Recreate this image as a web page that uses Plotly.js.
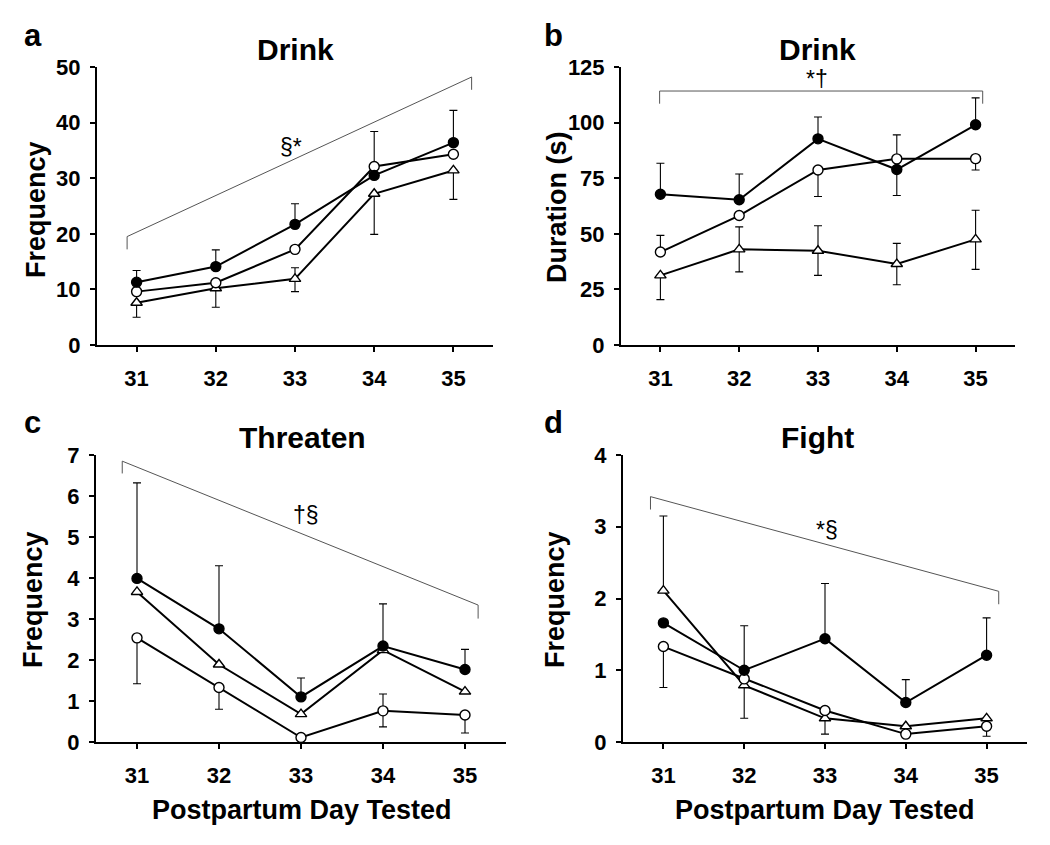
<!DOCTYPE html>
<html>
<head>
<meta charset="utf-8">
<script src="https://cdn.plot.ly/plotly-3.0.1.min.js"></script>
<style>html,body{margin:0;padding:0;background:#fff;}#chart{width:1050px;height:845px;}</style>
</head>
<body>
<div id="chart"></div>
<script>
// ---------- DATA ----------
const days = [31, 32, 33, 34, 35];
const dayLabels = ['31', '32', '33', '34', '35'];

// Panel a: Drink frequency
const aFilled = [11.3, 14.1, 21.7, 30.5, 36.4];
const aFilledUp = [2.1, 3.0, 3.7, 0, 5.8];
const aFilledDn = [0, 0, 0, 0, 0];
const aOpen = [9.6, 11.2, 17.2, 32.1, 34.3];
const aOpenUp = [0, 0, 0, 6.3, 0];
const aOpenDn = [0, 0, 0, 0, 0];
const aTri = [7.6, 10.2, 11.9, 27.2, 31.4];
const aTriUp = [0, 0, 2.0, 0, 0];
const aTriDn = [2.6, 3.4, 2.3, 7.3, 5.2];

// Panel b: Drink duration (s)
const bFilled = [67.8, 65.3, 92.7, 78.9, 99.0];
const bFilledUp = [13.9, 11.6, 9.8, 0, 12.1];
const bFilledDn = [0, 0, 0, 11.7, 0];
const bOpen = [41.8, 58.2, 78.7, 83.7, 83.8];
const bOpenUp = [7.5, 0, 0, 10.8, 0];
const bOpenDn = [0, 0, 11.9, 0, 5.1];
const bTri = [31.3, 43.0, 42.4, 36.4, 47.5];
const bTriUp = [0, 10.1, 11.2, 9.3, 13.1];
const bTriDn = [10.9, 10.1, 11.1, 9.3, 13.5];

// Panel c: Threaten frequency
const cFilled = [3.99, 2.76, 1.10, 2.34, 1.77];
const cFilledUp = [2.33, 1.54, 0.46, 1.03, 0.49];
const cFilledDn = [0, 0, 0, 0, 0];
const cOpen = [2.54, 1.33, 0.11, 0.76, 0.66];
const cOpenUp = [0, 0, 0, 0.41, 0];
const cOpenDn = [1.12, 0.53, 0, 0.39, 0.44];
const cTri = [3.66, 1.89, 0.68, 2.24, 1.23];
const cTriUp = [0, 0, 0, 0, 0];
const cTriDn = [0, 0, 0, 0, 0];

// Panel d: Fight frequency
const dFilled = [1.66, 1.00, 1.44, 0.55, 1.21];
const dFilledUp = [0, 0.62, 0.77, 0.32, 0.52];
const dFilledDn = [0, 0, 0, 0, 0];
const dOpen = [1.33, 0.88, 0.44, 0.11, 0.22];
const dOpenUp = [0, 0, 0, 0, 0];
const dOpenDn = [0.57, 0, 0, 0, 0.14];
const dTri = [2.11, 0.79, 0.33, 0.22, 0.33];
const dTriUp = [1.04, 0, 0, 0, 0];
const dTriDn = [0, 0.46, 0.22, 0, 0];

// Significance brackets: [x0, y0(tip), x1, y1(tip)] and tick drop at each end
const aBracket = [30.88, 19.5, 35.23, 48.2];
const aBracketDrop = [2.3, 2.3];
const bBracket = [30.99, 114.2, 35.09, 114.2];
const bBracketDrop = [5.7, 5.7];
const cBracket = [30.82, 6.85, 35.16, 3.34];
const cBracketDrop = [0.30, 0.33];
const dBracket = [30.84, 3.42, 35.15, 2.10];
const dBracketDrop = [0.18, 0.18];

const aSig = {text: '§*', x: 32.95, y: 35.6};
const bSig = {text: '*†', x: 32.99, y: 119.5};
const cSig = {text: '†§', x: 33.06, y: 5.53};
const dSig = {text: '*§', x: 33.03, y: 2.95};

// ---------- BUILD ----------
const W = 1050, H = 845;
const FONT = 'Liberation Sans, Arial, Helvetica, sans-serif';
const px = v => v / W;
const py = v => 1 - v / H;

function errs(up, dn) {
  const a = [], m = [];
  for (let i = 0; i < up.length; i++) {
    if (up[i] === 0 && dn[i] === 0) { a.push(NaN); m.push(NaN); }
    else { a.push(up[i]); m.push(dn[i]); }
  }
  return {type: 'data', symmetric: false, array: a, arrayminus: m,
          color: '#000', thickness: 1.1, width: 4, visible: true};
}

function series(y, up, dn, sym, fill, xa, ya) {
  return {
    x: days, y: y, type: 'scatter', mode: 'lines+markers',
    xaxis: xa, yaxis: ya, showlegend: false, hoverinfo: 'x+y',
    line: {color: '#000', width: 2},
    marker: {symbol: sym, size: 10, color: fill,
             line: {color: '#000', width: 1.4}},
    error_y: errs(up, dn), cliponaxis: false
  };
}

const traces = [];
function panel(xa, ya, F, FU, FD, O, OU, OD, T, TU, TD) {
  traces.push(series(T, TU, TD, 'triangle-up', '#fff', xa, ya));
  traces.push(series(O, OU, OD, 'circle', '#fff', xa, ya));
  traces.push(series(F, FU, FD, 'circle', '#000', xa, ya));
}
panel('x', 'y', aFilled, aFilledUp, aFilledDn, aOpen, aOpenUp, aOpenDn, aTri, aTriUp, aTriDn);
panel('x2', 'y2', bFilled, bFilledUp, bFilledDn, bOpen, bOpenUp, bOpenDn, bTri, bTriUp, bTriDn);
panel('x3', 'y3', cFilled, cFilledUp, cFilledDn, cOpen, cOpenUp, cOpenDn, cTri, cTriUp, cTriDn);
panel('x4', 'y4', dFilled, dFilledUp, dFilledDn, dOpen, dOpenUp, dOpenDn, dTri, dTriUp, dTriDn);

const tickFont = {family: FONT, size: 22, color: '#000', weight: 'bold'};
function xAxis(dom, anchor) {
  return {domain: dom, anchor: anchor, range: [30.5, 35.5], tickvals: days, ticktext: dayLabels,
          showline: true, linecolor: '#000', linewidth: 2, ticks: 'outside', ticklen: 5,
          tickwidth: 2, tickcolor: '#000', showgrid: false, zeroline: false,
          tickfont: tickFont, ticklabelstandoff: 8, fixedrange: true};
}
function yAxis(dom, anchor, max, dt) {
  return {domain: dom, anchor: anchor, range: [0, max], dtick: dt, tick0: 0,
          showline: true, linecolor: '#000', linewidth: 2, ticks: 'outside', ticklen: 5,
          tickwidth: 2, tickcolor: '#000', showgrid: false, zeroline: false,
          tickfont: tickFont, ticklabelstandoff: 5, fixedrange: true};
}

const topDom = [py(345), py(67)];
const botDom = [py(742), py(455)];

const shapes = [];
function bracket(b, drop, xr, yr) {
  const ln = {color: '#555', width: 1};
  shapes.push({type: 'line', xref: xr, yref: yr, x0: b[0], y0: b[1], x1: b[2], y1: b[3], line: ln});
  shapes.push({type: 'line', xref: xr, yref: yr, x0: b[0], y0: b[1], x1: b[0], y1: b[1] - drop[0], line: ln});
  shapes.push({type: 'line', xref: xr, yref: yr, x0: b[2], y0: b[3], x1: b[2], y1: b[3] - drop[1], line: ln});
}
bracket(aBracket, aBracketDrop, 'x', 'y');
bracket(bBracket, bBracketDrop, 'x2', 'y2');
bracket(cBracket, cBracketDrop, 'x3', 'y3');
bracket(dBracket, dBracketDrop, 'x4', 'y4');

const annotations = [];
function txt(text, x, y, size, bold, angle) {
  annotations.push({text: text, x: px(x), y: py(y), xref: 'paper', yref: 'paper',
    xanchor: 'center', yanchor: 'middle', showarrow: false, textangle: angle || 0,
    font: {family: FONT, size: size, color: '#000', weight: bold ? 'bold' : 'normal'}});
}
// panel letters
txt('a', 33, 36, 31, true); txt('b', 553, 36, 31, true);
txt('c', 32, 422, 31, true); txt('d', 553, 422, 31, true);
// panel titles
txt('Drink', 295, 50, 30, true); txt('Drink', 817, 50, 30, true);
txt('Threaten', 302, 438, 30, true); txt('Fight', 817, 438, 30, true);
// y titles
txt('Frequency', 36, 210, 27, true, -90); txt('Duration (s)', 557, 207, 27, true, -90);
txt('Frequency', 33, 600, 27, true, -90); txt('Frequency', 555, 600, 27, true, -90);
// x titles
txt('Postpartum Day Tested', 302, 810, 27, true); txt('Postpartum Day Tested', 825, 810, 27, true);
// significance symbols
function sig(s, xr, yr) {
  annotations.push({text: s.text, x: s.x, y: s.y, xref: xr, yref: yr, showarrow: false,
    xanchor: 'center', yanchor: 'middle', font: {family: FONT, size: 23, color: '#000'}});
}
sig(aSig, 'x', 'y'); sig(bSig, 'x2', 'y2'); sig(cSig, 'x3', 'y3'); sig(dSig, 'x4', 'y4');

const layout = {
  width: W, height: H, margin: {l: 0, r: 0, t: 0, b: 0},
  paper_bgcolor: '#fff', plot_bgcolor: '#fff', showlegend: false,
  font: {family: FONT, color: '#000'},
  xaxis: xAxis([px(97), px(493)], 'y'),
  yaxis: yAxis(topDom, 'x', 50, 10),
  xaxis2: xAxis([px(621), px(1015)], 'y2'),
  yaxis2: yAxis(topDom, 'x2', 125, 25),
  xaxis3: xAxis([px(96), px(506)], 'y3'),
  yaxis3: yAxis(botDom, 'x3', 7, 1),
  xaxis4: xAxis([px(623), px(1027)], 'y4'),
  yaxis4: yAxis(botDom, 'x4', 4, 1),
  shapes: shapes, annotations: annotations
};

Plotly.newPlot('chart', traces, layout, {displayModeBar: false, staticPlot: true});
</script>
</body>
</html>
